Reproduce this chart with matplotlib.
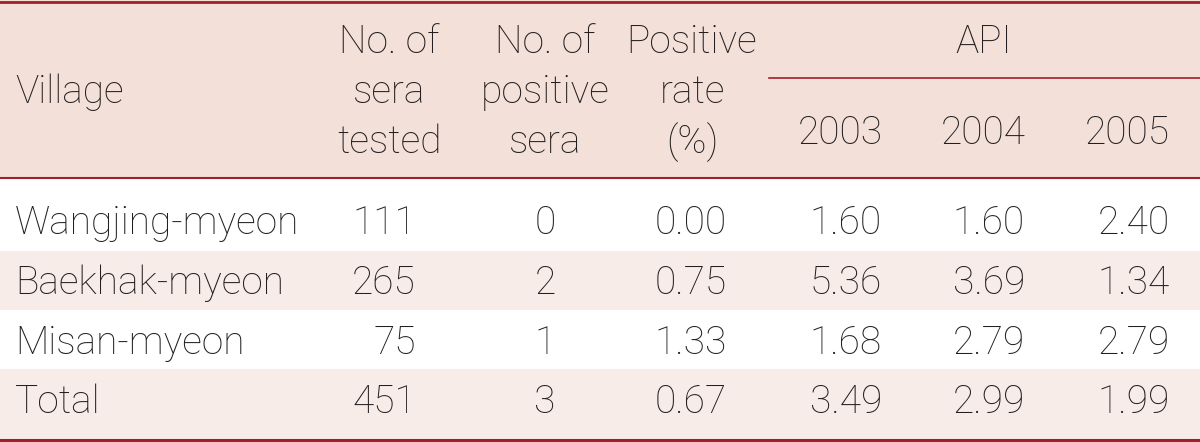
import matplotlib.pyplot as plt
from matplotlib.patches import Rectangle

# table data
villages = ['Wangjing-myeon', 'Baekhak-myeon', 'Misan-myeon', 'Total']
sera_tested = [111, 265, 75, 451]
positive_sera = [0, 2, 1, 3]
positive_rate = [0.00, 0.75, 1.33, 0.67]
api_years = ['2003', '2004', '2005']
api_2003 = [1.60, 5.36, 1.68, 3.49]
api_2004 = [1.60, 3.69, 2.79, 2.99]
api_2005 = [2.40, 1.34, 2.79, 1.99]

line_col = '#a0202a'
head_bg = '#f2e0d9'
shade_bg = '#f7ece8'
txt_col = '#231f20'
fs = 28
font = dict(family='Roboto', fontweight='light', color=txt_col, fontsize=fs)

fig = plt.figure(figsize=(12, 4.42), dpi=100)
ax = fig.add_axes([0, 0, 1, 1])
ax.set_xlim(0, 1200)
ax.set_ylim(442, 0)
ax.axis('off')

# backgrounds
ax.add_patch(Rectangle((0, 0), 1200, 178, color=head_bg, lw=0))
ax.add_patch(Rectangle((0, 251), 1200, 59, color=shade_bg, lw=0))
ax.add_patch(Rectangle((0, 369), 1200, 71, color=shade_bg, lw=0))

# rules
ax.plot([0, 1200], [1.5, 1.5], color=line_col, lw=2)
ax.plot([0, 1200], [178, 178], color=line_col, lw=1.5)
ax.plot([769, 1200], [78, 78], color=line_col, lw=1.2)
ax.plot([0, 1200], [440, 440], color=line_col, lw=2.2)

# header
ax.text(15, 103, 'Village', ha='left', va='baseline', **font)
for i, s in enumerate(['No. of', 'sera', 'tested']):
    ax.text(389, 53 + i * 50, s, ha='center', va='baseline', **font)
for i, s in enumerate(['No. of', 'positive', 'sera']):
    ax.text(545, 53 + i * 50, s, ha='center', va='baseline', **font)
for i, s in enumerate(['Positive', 'rate', '(%)']):
    ax.text(692, 53 + i * 50, s, ha='center', va='baseline', **font)
ax.text(984, 53, 'API', ha='center', va='baseline', **font)
api_cx = [840, 983, 1127]
for x, y in zip(api_cx, api_years):
    ax.text(x, 144, y, ha='center', va='baseline', **font)

# body
row_base = [234, 294, 354, 413]
api_cols = [api_2003, api_2004, api_2005]
api_right = [882, 1025, 1170]
for r, y in enumerate(row_base):
    ax.text(15, y, villages[r], ha='left', va='baseline', **font)
    ax.text(416, y, str(sera_tested[r]), ha='right', va='baseline', **font)
    ax.text(545, y, str(positive_sera[r]), ha='center', va='baseline', **font)
    ax.text(727, y, f'{positive_rate[r]:.2f}', ha='right', va='baseline', **font)
    for c in range(3):
        ax.text(api_right[c], y, f'{api_cols[c][r]:.2f}', ha='right', va='baseline', **font)

fig.savefig('out.png', dpi=100)
